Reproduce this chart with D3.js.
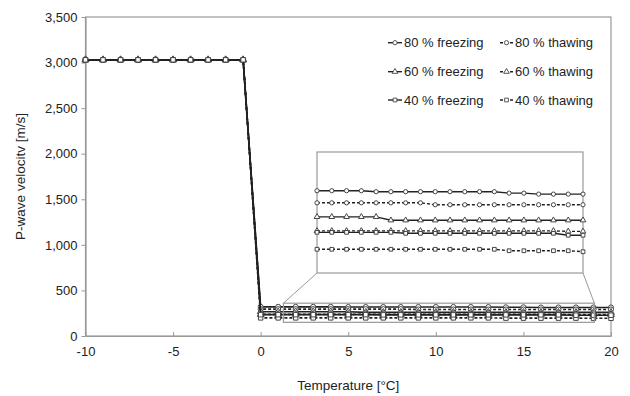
<!DOCTYPE html>
<html><head><meta charset="utf-8">
<script src="https://cdn.jsdelivr.net/npm/d3@7"></script>
<style>body{margin:0;background:#fff}svg{display:block;font-family:"Liberation Sans",Arial,sans-serif}</style>
</head><body><svg id="c" width="630" height="396"></svg>
<script>
const temps=[-10,-9,-8,-7,-6,-5,-4,-3,-2,-1,0,1,2,3,4,5,6,7,8,9,10,11,12,13,14,15,16,17,18,19,20];
const v80f=[3030,3030,3030,3030,3030,3030,3030,3030,3030,3030,320,320,320,320,320,318,318,318,318,318,318,318,318,318,315,315,313,313,313,313,313];
const v80t=[3030,3030,3030,3030,3030,3030,3030,3030,3030,3030,295,295,295,295,295,295,295,295,295,291,291,291,291,291,291,291,291,291,291,291,291];
const v60f=[3030,3030,3030,3030,3030,3030,3030,3030,3030,3030,266,266,266,266,266,266,259,259,259,259,259,259,259,259,259,259,259,259,259,259,259];
const v60t=[3030,3030,3030,3030,3030,3030,3030,3030,3030,3030,237,237,237,237,237,237,237,237,237,237,237,237,237,237,237,237,237,237,236,236,236];
const v40f=[3030,3030,3030,3030,3030,3030,3030,3030,3030,3030,234,234,234,234,234,234,234,232,232,232,232,232,232,232,232,232,232,232,228,228,228];
const v40t=[3030,3030,3030,3030,3030,3030,3030,3030,3030,3030,199,199,199,199,199,199,199,199,199,199,199,199,199,199,196,196,196,196,196,194,194];
const seriesNames=["80 % freezing","80 % thawing","60 % freezing","60 % thawing","40 % freezing","40 % thawing"];
const xTicks=[-10,-5,0,5,10,15,20];
const yTicks=[0,500,1000,1500,2000,2500,3000,3500];
const zoomX=[1.3,19.05];
const zoomY=[150,360];
const insetX=[1,19];
const insetY=[150,400];

const series=[
 {name:seriesNames[0],values:v80f,shape:d3.symbolCircle,dash:false,col:0,row:0},
 {name:seriesNames[1],values:v80t,shape:d3.symbolCircle,dash:true,col:1,row:0},
 {name:seriesNames[2],values:v60f,shape:d3.symbolTriangle,dash:false,col:0,row:1},
 {name:seriesNames[3],values:v60t,shape:d3.symbolTriangle,dash:true,col:1,row:1},
 {name:seriesNames[5],values:v40t,shape:d3.symbolSquare,dash:true,col:1,row:2},
 {name:seriesNames[4],values:v40f,shape:d3.symbolSquare,dash:false,col:0,row:2}
];

const svg=d3.select("#c");
const L=85.5,R=611,T=17,B=336;
const x=d3.scaleLinear().domain([-10,20]).range([L,R]);
const y=d3.scaleLinear().domain([0,3500]).range([B,T]);
const frameCol="#999", lineCol="#222", mkCol="#444", txtCol="#222";

svg.append("rect").attr("x",L).attr("y",T).attr("width",R-L).attr("height",B-T)
  .attr("fill","none").attr("stroke",frameCol).attr("stroke-width",1.2);

const ya=svg.append("g").attr("transform",`translate(${L},0)`)
  .call(d3.axisLeft(y).tickValues(yTicks).tickFormat(d3.format(",")).tickSizeInner(4).tickSizeOuter(0).tickPadding(4));
ya.select(".domain").attr("stroke",frameCol).attr("stroke-width",1.2);
ya.selectAll(".tick line").attr("stroke",frameCol);
ya.selectAll("text").attr("font-size",13).attr("fill",txtCol).attr("font-family","Liberation Sans, Arial, sans-serif");

const xa=svg.append("g").attr("transform",`translate(0,${B})`)
  .call(d3.axisBottom(x).tickValues(xTicks).tickFormat(d=>String(d)).tickSizeInner(-4).tickSizeOuter(0).tickPadding(11));
xa.select(".domain").attr("stroke",frameCol).attr("stroke-width",1.2);
xa.selectAll(".tick line").attr("stroke",frameCol);
xa.selectAll("text").attr("font-size",13).attr("fill",txtCol).attr("font-family","Liberation Sans, Arial, sans-serif");

svg.append("text").attr("x",(L+R)/2).attr("y",390).attr("text-anchor","middle")
  .attr("font-size",13.5).attr("fill",txtCol).text("Temperature [°C]");
svg.append("text").attr("transform",`translate(25,${(T+B)/2}) rotate(-90)`).attr("text-anchor","middle")
  .attr("font-size",13.5).attr("fill",txtCol).text("P-wave velocitv [m/s]");

function drawSeries(g,xs,ys,s,idx,lw,msize,dashArr){
  const pts=idx.map(i=>[temps[i],s.values[i]]);
  g.append("path").datum(pts).attr("fill","none").attr("stroke",lineCol).attr("stroke-width",lw)
    .attr("stroke-dasharray",s.dash?dashArr:null)
    .attr("d",d3.line().x(d=>xs(d[0])).y(d=>ys(d[1])));
  g.selectAll(null).data(pts).enter().append("path")
    .attr("transform",d=>`translate(${xs(d[0])},${ys(d[1])})`)
    .attr("d",d3.symbol().type(s.shape).size(msize))
    .attr("fill","#fff").attr("stroke",mkCol).attr("stroke-width",1);
}

const ix=d3.scaleLinear().domain(insetX).range([317,583]);
const iy=d3.scaleLinear().domain(insetY).range([273,152]);
svg.append("line").attr("x1",x(zoomX[0])).attr("y1",y(zoomY[1])).attr("x2",ix(insetX[0])).attr("y2",iy(insetY[0]))
  .attr("stroke",frameCol).attr("stroke-width",1);
svg.append("line").attr("x1",x(zoomX[1])).attr("y1",y(zoomY[1])).attr("x2",ix(insetX[1])).attr("y2",iy(insetY[0]))
  .attr("stroke",frameCol).attr("stroke-width",1);

const allIdx=temps.map((d,i)=>i);
const mg=svg.append("g");
series.forEach(s=>drawSeries(mg,x,y,s,allIdx,1.6,20,"3,2"));

svg.append("rect").attr("x",x(zoomX[0])).attr("y",y(zoomY[1]))
  .attr("width",x(zoomX[1])-x(zoomX[0])).attr("height",y(zoomY[0])-y(zoomY[1]))
  .attr("fill","none").attr("stroke",frameCol).attr("stroke-width",1.2);

svg.append("rect").attr("x",ix(insetX[0])).attr("y",iy(insetY[1]))
  .attr("width",ix(insetX[1])-ix(insetX[0])).attr("height",iy(insetY[0])-iy(insetY[1]))
  .attr("fill","#fff").attr("stroke",frameCol).attr("stroke-width",1.2);
const insIdx=temps.map((d,i)=>i).filter(i=>temps[i]>=insetX[0]&&temps[i]<=insetX[1]);
const ig=svg.append("g");
series.forEach(s=>drawSeries(ig,ix,iy,s,insIdx,1.4,14,"3,2"));

const lg=svg.append("g");
const colX=[388,500], rowY=[42.7,71.7,100];
series.forEach(s=>{
  const x0=colX[s.col], yy=rowY[s.row], w=s.col===0?14:13;
  lg.append("line").attr("x1",x0).attr("x2",x0+w).attr("y1",yy).attr("y2",yy)
    .attr("stroke",lineCol).attr("stroke-width",1.4).attr("stroke-dasharray",s.dash?"3,2":null);
  lg.append("path").attr("transform",`translate(${x0+w/2},${yy})`)
    .attr("d",d3.symbol().type(s.shape).size(14)).attr("fill","#fff").attr("stroke",mkCol).attr("stroke-width",0.9);
  lg.append("text").attr("x",x0+w+2).attr("y",yy+4.7).attr("font-size",13).attr("fill",txtCol).text(s.name);
});
</script></body></html>
